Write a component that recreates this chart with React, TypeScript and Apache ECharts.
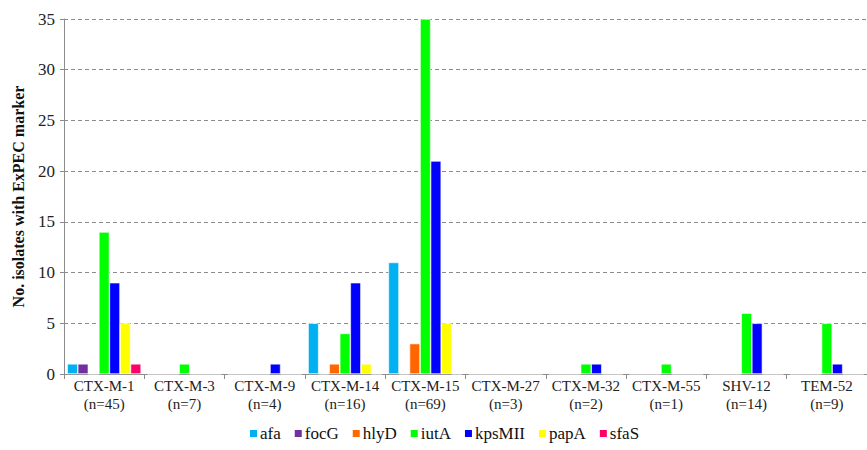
import React, { useEffect, useRef } from "react";
import * as echarts from "echarts";

const categories = [
  "CTX-M-1\n(n=45)",
  "CTX-M-3\n(n=7)",
  "CTX-M-9\n(n=4)",
  "CTX-M-14\n(n=16)",
  "CTX-M-15\n(n=69)",
  "CTX-M-27\n(n=3)",
  "CTX-M-32\n(n=2)",
  "CTX-M-55\n(n=1)",
  "SHV-12\n(n=14)",
  "TEM-52\n(n=9)",
];

const afa = [1, 0, 0, 5, 11, 0, 0, 0, 0, 0];
const focG = [1, 0, 0, 0, 0, 0, 0, 0, 0, 0];
const hlyD = [0, 0, 0, 1, 3, 0, 0, 0, 0, 0];
const iutA = [14, 1, 0, 4, 35, 0, 1, 1, 6, 5];
const kpsMII = [9, 0, 1, 9, 21, 0, 1, 0, 5, 1];
const papA = [5, 0, 0, 1, 5, 0, 0, 0, 0, 0];
const sfaS = [1, 0, 0, 0, 0, 0, 0, 0, 0, 0];

const seriesDefs = [
  { name: "afa", data: afa, color: "#00B0F0" },
  { name: "focG", data: focG, color: "#7030A0" },
  { name: "hlyD", data: hlyD, color: "#FF6600" },
  { name: "iutA", data: iutA, color: "#00FF00" },
  { name: "kpsMII", data: kpsMII, color: "#0000FF" },
  { name: "papA", data: papA, color: "#FFFF00" },
  { name: "sfaS", data: sfaS, color: "#FF0066" },
];

const SERIF = "'Liberation Serif', 'DejaVu Serif', serif";

export default function App() {
  const ref = useRef<HTMLDivElement>(null);
  useEffect(() => {
    if (!ref.current) return;
    const chart = echarts.init(ref.current, undefined, { renderer: "svg" });
    chart.setOption({
      animation: false,
      backgroundColor: "#ffffff",
      textStyle: { fontFamily: SERIF },
      grid: { left: 64, top: 19, width: 811, height: 355, containLabel: false },
      legend: {
        bottom: 3,
        left: 243,
        itemWidth: 9,
        itemHeight: 9,
        itemGap: 12,
        icon: "rect",
        textStyle: { fontFamily: SERIF, fontSize: 17, color: "#111", padding: [0, 0, 0, -3] },
        data: seriesDefs.map((s) => s.name),
      },
      xAxis: {
        type: "category",
        data: categories,
        axisLine: { lineStyle: { color: "#8c8c8c", width: 1 } },
        axisTick: { show: true, length: 5, lineStyle: { color: "#8c8c8c" } },
        axisLabel: {
          fontFamily: SERIF,
          fontSize: 15,
          color: "#222",
          lineHeight: 18,
          margin: 3,
          interval: 0,
        },
      },
      yAxis: {
        type: "value",
        min: 0,
        max: 35,
        interval: 5,
        name: "No. isolates with ExPEC marker",
        nameLocation: "middle",
        nameGap: 38,
        nameTextStyle: { fontFamily: SERIF, fontSize: 16, fontWeight: "bold", color: "#111" },
        axisLine: { show: true, lineStyle: { color: "#8c8c8c" } },
        axisTick: { show: true, length: 4, lineStyle: { color: "#8c8c8c" } },
        axisLabel: { fontFamily: SERIF, fontSize: 17, color: "#222", margin: 9 },
        splitLine: { lineStyle: { color: "#8c8c8c", type: [4, 3], width: 1 } },
      },
      series: seriesDefs.map((s) => ({
        name: s.name,
        type: "bar",
        data: s.data,
        barGap: "0%",
        barCategoryGap: "8%",
        itemStyle: { color: s.color, borderColor: "#ffffff", borderWidth: 0.6 },
      })),
    });
    return () => chart.dispose();
  }, []);
  return (
    <div
      ref={ref}
      style={{ position: "absolute", left: 0, top: 0, width: 867, height: 450 }}
    />
  );
}
